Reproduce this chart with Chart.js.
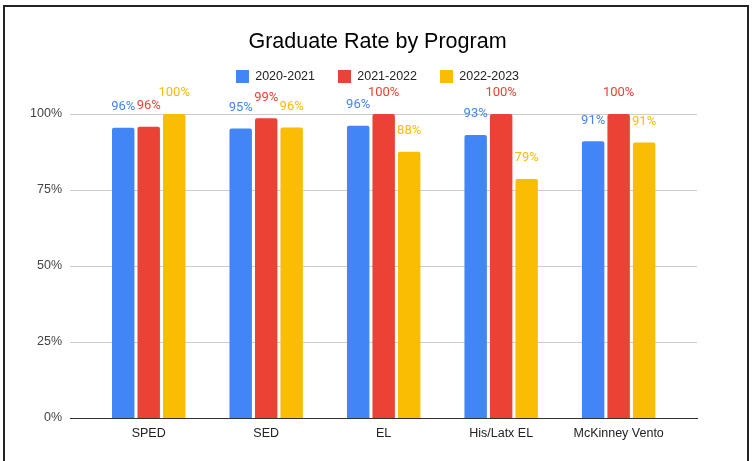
<!DOCTYPE html>
<html>
<head>
<meta charset="utf-8">
<script src="https://cdn.jsdelivr.net/npm/chart.js@4/dist/chart.umd.min.js"></script>
<style>
  html, body { margin: 0; padding: 0; background: #fff; overflow: hidden; }
  .wrap { position: relative; width: 755px; height: 461px; }
  .frame {
    position: absolute; left: 3px; top: 5px; width: 746px; height: 480px;
    box-sizing: border-box; border: 2px solid #222; pointer-events: none;
  }
</style>
</head>
<body>
<div class="wrap">
  <canvas id="gradChart" width="755" height="461"></canvas>
  <div class="frame"></div>
</div>
<script>
const categories = ['SPED', 'SED', 'EL', 'His/Latx EL', 'McKinney Vento'];
const seriesNames = ['2020-2021', '2021-2022', '2022-2023'];
const rates2021 = [95.5, 95.2, 96.1, 93.1, 91.0];
const rates2122 = [95.8, 98.6, 100, 100, 100];
const rates2223 = [100, 95.6, 87.6, 78.6, 90.6];
const yTicks = [0, 25, 50, 75, 100];

const colors = ['#4285F4', '#EA4335', '#FBBC04'];

function toPoints(values) {
  return values.map((v, i) => ({ x: i, y: v }));
}

// value labels above each bar, in the series colour
const barLabels = {
  id: 'barLabels',
  afterDatasetsDraw(chart) {
    const ctx = chart.ctx;
    ctx.save();
    ctx.font = '13px Roboto';
    ctx.textAlign = 'center';
    ctx.textBaseline = 'middle';
    chart.data.datasets.forEach((ds, di) => {
      const meta = chart.getDatasetMeta(di);
      meta.data.forEach((bar, i) => {
        ctx.fillStyle = ds.backgroundColor;
        ctx.fillText(Math.round(ds.data[i].y) + '%', bar.x, bar.y - 21);
      });
    });
    ctx.restore();
  }
};

// invisible axes used only to reserve room around the plot
const spacer = (pos, axis, size) => ({
  type: 'linear',
  position: pos,
  axis: axis,
  grid: { display: false, drawTicks: false },
  border: { display: false },
  ticks: { display: false },
  afterFit: (s) => {
    if (axis === 'x') s.height = size;
    else s.width = size;
  },
});

const ctx = document.getElementById('gradChart');
new Chart(ctx, {
  type: 'bar',
  data: {
    datasets: [rates2021, rates2122, rates2223].map((vals, i) => ({
      label: seriesNames[i],
      data: toPoints(vals),
      backgroundColor: colors[i],
      borderRadius: 2,
      categoryPercentage: 0.651,
      barPercentage: 0.88,
    })),
  },
  options: {
    responsive: false,
    animation: false,
    layout: { padding: 0 },
    scales: {
      x: {
        type: 'linear',
        min: -0.67,
        max: 4.667,
        offset: false,
        grid: { display: false, drawTicks: false, offset: false },
        border: { display: true, color: '#333', width: 1 },
        afterBuildTicks: (s) => {
          s.ticks = s.ticks.filter((t) => Number.isInteger(t.value) && t.value >= 0);
        },
        afterFit: (s) => { s.height = 43; },
        ticks: {
          stepSize: 1,
          autoSkip: false,
          maxRotation: 0,
          padding: 8,
          color: '#222',
          font: { family: 'Liberation Sans', size: 12.5 },
          callback: (v) => categories[v] ?? '',
        },
      },
      gapTop: spacer('top', 'x', 21),
      gapRight: spacer('right', 'y', 58),
      y: {
        min: 0,
        max: 100,
        afterBuildTicks: (s) => { s.ticks = yTicks.map((v) => ({ value: v })); },
        afterFit: (s) => { s.width = 70; },
        grid: { color: '#cccccc', drawTicks: false },
        border: { display: false },
        ticks: {
          padding: 8,
          color: '#444',
          font: { family: 'Liberation Sans', size: 12.5 },
          callback: (v) => v + '%',
        },
      },
    },
    plugins: {
      title: {
        display: true,
        text: 'Graduate Rate by Program',
        color: '#000',
        font: { family: 'Liberation Sans', size: 21.5, weight: 'normal', lineHeight: '10px' },
        padding: { top: 37, bottom: 0 },
      },
      legend: {
        position: 'top',
        labels: {
          boxWidth: 13,
          boxHeight: 13,
          padding: 23,
          color: '#222',
          font: { family: 'Liberation Sans', size: 12.5 },
        },
      },
      tooltip: { enabled: false },
    },
  },
  plugins: [barLabels],
});
</script>
</body>
</html>
